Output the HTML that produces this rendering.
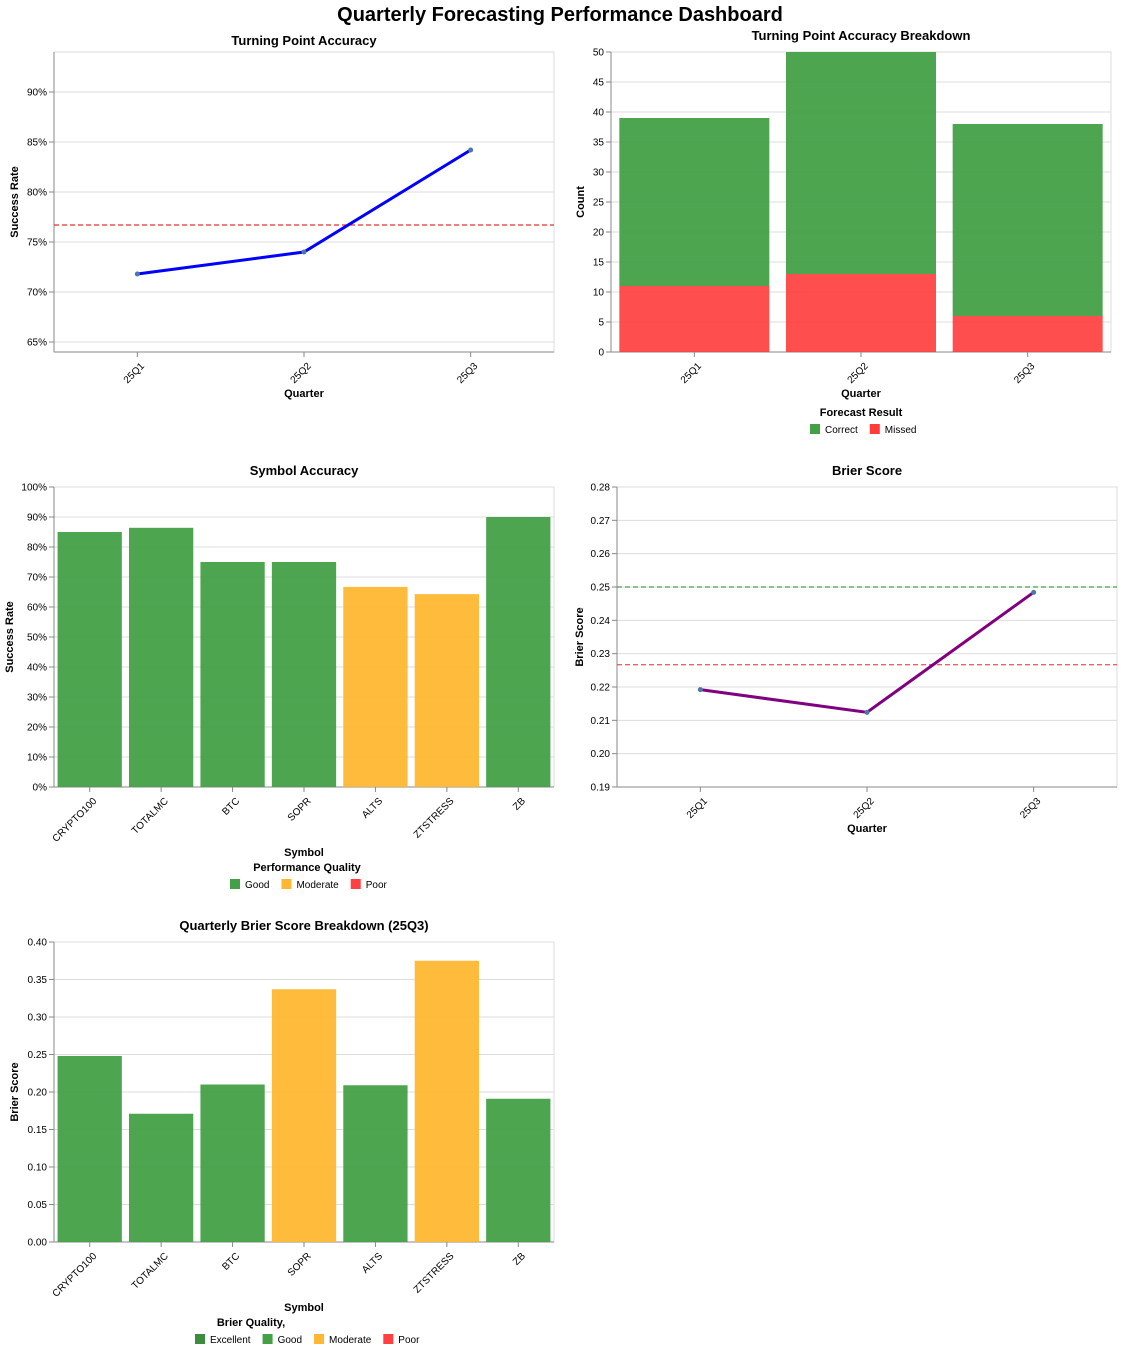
<!DOCTYPE html>
<html><head><meta charset="utf-8"><style>
body{margin:0;background:#fff;font-family:"Liberation Sans",Arial,sans-serif}
svg{display:block}
</style></head><body>
<svg id="c" width="1121" height="1349" xmlns="http://www.w3.org/2000/svg" font-family="Liberation Sans, Arial, sans-serif"></svg>
<script>
const quarters=["25Q1","25Q2","25Q3"];
const tpSuccess=[0.718,0.740,0.842];
const tpAvg=0.767;
const correctCounts=[39,50,38];
const missedCounts=[11,13,6];
const symbols=["CRYPTO100","TOTALMC","BTC","SOPR","ALTS","ZTSTRESS","ZB"];
const symAccuracy=[0.85,0.864,0.75,0.75,0.667,0.643,0.90];
const symQuality=["Good","Good","Good","Good","Moderate","Moderate","Good"];
const brierVals=[0.2192,0.2124,0.2484];
const brierThreshold=0.25;
const brierAvg=0.2267;
const symBrier=[0.248,0.171,0.210,0.337,0.209,0.375,0.191];
const symBrierQuality=["Good","Good","Good","Moderate","Good","Moderate","Good"];
const tpTicks=[0.65,0.70,0.75,0.80,0.85,0.90];
const countTicks=[0,5,10,15,20,25,30,35,40,45,50];
const pctTicks=[0,0.1,0.2,0.3,0.4,0.5,0.6,0.7,0.8,0.9,1.0];
const brierTicks=[0.19,0.20,0.21,0.22,0.23,0.24,0.25,0.26,0.27,0.28];
const symBrierTicks=[0,0.05,0.10,0.15,0.20,0.25,0.30,0.35,0.40];

const NS="http://www.w3.org/2000/svg";
const svg=document.getElementById('c');
function el(tag,attrs,parent,text){const e=document.createElementNS(NS,tag);for(const k in attrs)e.setAttribute(k,attrs[k]);if(text!==undefined)e.textContent=text;(parent||svg).appendChild(e);return e;}
const qColor={Excellent:"#3d8b3d",Good:"#43a047",Moderate:"#ffb732",Poor:"#ff4040"};
const GREEN="#43a047",RED="#ff3b3b";

let t=el('text',{x:560,y:21,'text-anchor':'middle','font-size':20,'font-weight':'bold',fill:'#000'},svg,'Quarterly Forecasting Performance Dashboard');



function panel(name,x0,y0,w,h,title,dom,ticks,fmt,ytitle,cats,pointScale,ytOff,titleOff){
  const g=el('g',{});
  
  
  const y=v=>y0+h-(v-dom[0])/(dom[1]-dom[0])*h;
  let tt=el('text',{x:x0+w/2,y:y0-titleOff,'text-anchor':'middle','font-size':13,'font-weight':'bold'},g,title);
  
  
  el('rect',{x:x0,y:y0,width:w,height:h,fill:'none',stroke:'#ddd'},g);
  ticks.forEach(v=>{
    el('line',{x1:x0,x2:x0+w,y1:y(v),y2:y(v),stroke:'#ddd'},g);
    el('line',{x1:x0-5,x2:x0,y1:y(v),y2:y(v),stroke:'#888'},g);
    const l=el('text',{x:x0-7,y:y(v)+3.5,'text-anchor':'end','font-size':10},g,fmt(v));
    
    
  });
  el('line',{x1:x0,x2:x0,y1:y0,y2:y0+h,stroke:'#888'},g);
  el('line',{x1:x0,x2:x0+w,y1:y0+h,y2:y0+h,stroke:'#888'},g);
  const yt=el('text',{transform:`translate(${x0-ytOff},${y0+h/2}) rotate(-90)`,'text-anchor':'middle','font-size':11,'font-weight':'bold'},g,ytitle);
  
  
  let step,xs,bw;
  if(pointScale){step=w/cats.length;xs=i=>x0+step*(i+0.5);bw=0;}
  else{step=w/cats.length;bw=step*0.9;xs=i=>x0+step*0.05+step*i+bw/2;}
  cats.forEach((c,i)=>{
    const cx=xs(i);
    el('line',{x1:cx,x2:cx,y1:y0+h,y2:y0+h+5,stroke:'#888'},g);
    const l=el('text',{transform:`translate(${cx+3},${y0+h+10}) rotate(-45)`,'text-anchor':'end','font-size':10,'dominant-baseline':'hanging'},g,c);
    
    
  });
  return {g,y,xs,bw};
}

function legend(g,cx,ty,title,items,startX){
  const lt=el('text',{x:cx,y:ty,'text-anchor':'middle','font-size':11,'font-weight':'bold'},g,title);
  
  let x=startX;
  items.forEach(([n,c])=>{
    const r=el('rect',{x:x,y:ty+8,width:10,height:10,fill:c},g);
    
    const tx=el('text',{x:x+15,y:ty+17,'font-size':10},g,n);
    
    let len=n.length*5.6;try{len=tx.getComputedTextLength();}catch(e){}
    x+=15+len+12;
  });
}

// Chart 1
(function(){
  const p=panel('turning-point-accuracy-chart',54,52,500,300,'Turning Point Accuracy',[0.64,0.94],tpTicks,v=>Math.round(v*100)+'%','Success Rate',quarters,true,36,7);
  const xt=el('text',{x:304,y:397,'text-anchor':'middle','font-size':11,'font-weight':'bold'},p.g,'Quarter');
  
  const ref=el('line',{x1:54,x2:554,y1:p.y(tpAvg),y2:p.y(tpAvg),stroke:'#e03030','stroke-dasharray':'5,3','stroke-width':1.2},p.g);
  
  const line=el('polyline',{points:tpSuccess.map((v,i)=>p.xs(i)+','+p.y(v)).join(' '),fill:'none',stroke:'#0000ff','stroke-width':3},p.g);
  
  tpSuccess.forEach((v,i)=>{const c=el('circle',{cx:p.xs(i),cy:p.y(v),r:2.5,fill:'#4c78a8'},p.g);
    });
})();

// Chart 2
(function(){
  const p=panel('turning-point-breakdown-chart',611,52,500,300,'Turning Point Accuracy Breakdown',[0,50],countTicks,v=>String(v),'Count',quarters,false,27,12);
  const xt=el('text',{x:861,y:397,'text-anchor':'middle','font-size':11,'font-weight':'bold'},p.g,'Quarter');
  
  quarters.forEach((q,i)=>{
    const x=p.xs(i)-p.bw/2;
    const m=el('rect',{x:x,y:p.y(missedCounts[i]),width:p.bw,height:p.y(0)-p.y(missedCounts[i]),fill:RED,opacity:0.9},p.g);
    
    const c=el('rect',{x:x,y:p.y(correctCounts[i]),width:p.bw,height:p.y(missedCounts[i])-p.y(correctCounts[i]),fill:GREEN,opacity:0.95},p.g);
    
  });
  legend(p.g,861,416,'Forecast Result',[['Correct',GREEN],['Missed',RED]],810);
})();

// Chart 3
(function(){
  const p=panel('symbol-accuracy-chart',54,487,500,300,'Symbol Accuracy',[0,1],pctTicks,v=>Math.round(v*100)+'%','Success Rate',symbols,false,41,12);
  const xt=el('text',{x:304,y:856,'text-anchor':'middle','font-size':11,'font-weight':'bold'},p.g,'Symbol');
  
  symbols.forEach((s,i)=>{
    const r=el('rect',{x:p.xs(i)-p.bw/2,y:p.y(symAccuracy[i]),width:p.bw,height:p.y(0)-p.y(symAccuracy[i]),fill:qColor[symQuality[i]],opacity:0.95},p.g);
    
  });
  legend(p.g,307,871,'Performance Quality',[['Good',qColor.Good],['Moderate',qColor.Moderate],['Poor',qColor.Poor]],230);
})();

// Chart 4
(function(){
  const p=panel('brier-score-chart',617,487,500,300,'Brier Score',[0.19,0.28],brierTicks,v=>v.toFixed(2),'Brier Score',quarters,true,34,12);
  const xt=el('text',{x:867,y:832,'text-anchor':'middle','font-size':11,'font-weight':'bold'},p.g,'Quarter');
  
  const g1=el('line',{x1:617,x2:1117,y1:p.y(brierThreshold),y2:p.y(brierThreshold),stroke:'#43a047','stroke-dasharray':'5,3','stroke-width':1.3},p.g);
  
  const r1=el('line',{x1:617,x2:1117,y1:p.y(brierAvg),y2:p.y(brierAvg),stroke:'#f06060','stroke-dasharray':'5,3','stroke-width':1.3},p.g);
  
  const line=el('polyline',{points:brierVals.map((v,i)=>p.xs(i)+','+p.y(v)).join(' '),fill:'none',stroke:'#800080','stroke-width':3},p.g);
  
  brierVals.forEach((v,i)=>{const c=el('circle',{cx:p.xs(i),cy:p.y(v),r:2.5,fill:'#4c78a8'},p.g);
    });
})();

// Chart 5
(function(){
  const p=panel('quarterly-brier-breakdown-chart',54,942,500,300,'Quarterly Brier Score Breakdown (25Q3)',[0,0.4],symBrierTicks,v=>v.toFixed(2),'Brier Score',symbols,false,36,12);
  const xt=el('text',{x:304,y:1311,'text-anchor':'middle','font-size':11,'font-weight':'bold'},p.g,'Symbol');
  
  symbols.forEach((s,i)=>{
    const r=el('rect',{x:p.xs(i)-p.bw/2,y:p.y(symBrier[i]),width:p.bw,height:p.y(0)-p.y(symBrier[i]),fill:qColor[symBrierQuality[i]],opacity:0.95},p.g);
    
  });
  legend(p.g,251,1326,'Brier Quality,',[['Excellent',qColor.Excellent],['Good',qColor.Good],['Moderate',qColor.Moderate],['Poor',qColor.Poor]],195);
})();
</script>
</body></html>
